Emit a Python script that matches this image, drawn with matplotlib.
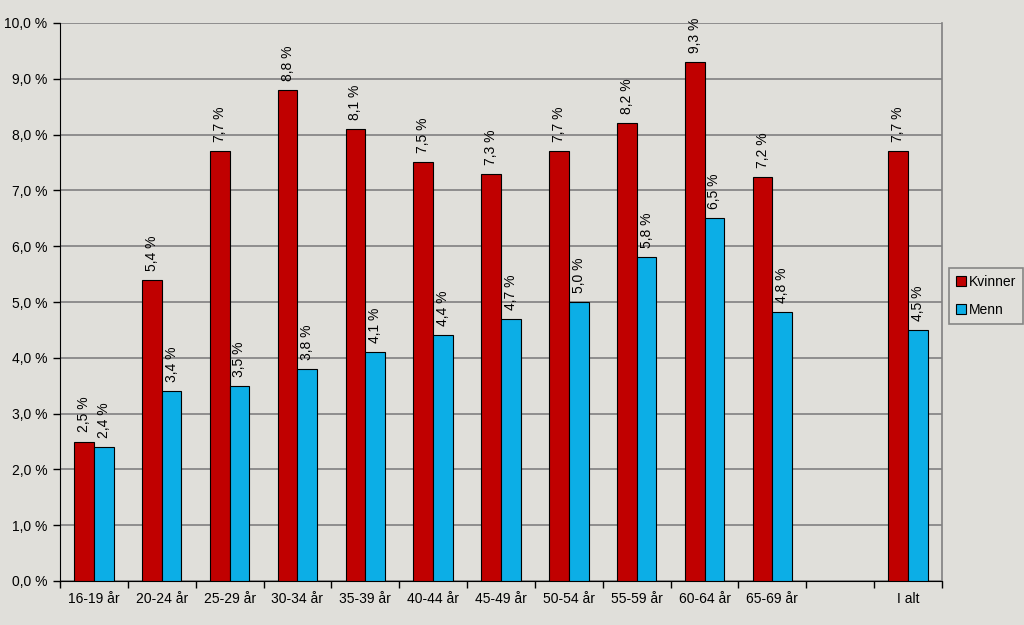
import matplotlib
matplotlib.use("Agg")
import matplotlib.pyplot as plt
import numpy as np
from matplotlib.patches import Patch
from matplotlib.ticker import FixedLocator

categories = ["16-19 år", "20-24 år", "25-29 år", "30-34 år", "35-39 år", "40-44 år",
              "45-49 år", "50-54 år", "55-59 år", "60-64 år", "65-69 år", "", "I alt"]
kvinner = [2.5, 5.4, 7.7, 8.8, 8.1, 7.5, 7.3, 7.7, 8.2, 9.3, 7.24, np.nan, 7.7]
menn = [2.4, 3.4, 3.5, 3.8, 4.1, 4.4, 4.7, 5.0, 5.8, 6.5, 4.82, np.nan, 4.5]
series_names = ["Kvinner", "Menn"]
yticks = [0, 1, 2, 3, 4, 5, 6, 7, 8, 9, 10]

bg = "#E0DFDA"
red = "#C00000"
blue = "#0CAEE6"

plt.rcParams["font.family"] = ["Liberation Sans", "DejaVu Sans"]
plt.rcParams["font.size"] = 10

fig = plt.figure(figsize=(10.24, 6.25), dpi=100, facecolor=bg)
ax = fig.add_axes([60/1024, 44/625, 882/1024, 558/625], facecolor=bg)

x = np.arange(len(categories))
w = 0.29
b1 = ax.bar(x - w/2, kvinner, w, color=red, edgecolor="black", linewidth=0.8, zorder=3)
b2 = ax.bar(x + w/2, menn, w, color=blue, edgecolor="black", linewidth=0.8, zorder=3)

def fmt(v):
    return f"{v:.1f}".replace(".", ",") + " %"

for bars, vals in ((b1, kvinner), (b2, menn)):
    for rect, v in zip(bars, vals):
        if np.isnan(v):
            continue
        ax.annotate(fmt(v), (rect.get_x() + rect.get_width()/2, v),
                    xytext=(0, 6.5), textcoords="offset points",
                    rotation=90, ha="center", va="bottom", fontsize=10, zorder=4)

ax.set_xlim(-0.5, len(categories) - 0.5)
ax.set_ylim(0, 10)
ax.set_yticks(yticks)
ax.set_yticklabels([fmt(t) for t in yticks])
ax.yaxis.grid(True, color="#808080", linewidth=1.2, zorder=0)
ax.set_xticks(x)
ax.set_xticklabels(categories)
ax.tick_params(axis="x", which="major", length=0, pad=8)
ax.xaxis.set_minor_locator(FixedLocator(np.arange(-0.5, len(categories), 1.0)))
ax.tick_params(axis="x", which="minor", length=5, width=1, color="black", direction="out")
ax.tick_params(axis="y", length=5, width=1, color="black", direction="out", pad=4)

ax.spines["left"].set_color("black")
ax.spines["bottom"].set_color("black")
ax.spines["top"].set_visible(False)
ax.spines["right"].set_color("#808080")
ax.spines["right"].set_linewidth(1.2)

handles = [Patch(facecolor=red, edgecolor="black", linewidth=0.8),
           Patch(facecolor=blue, edgecolor="black", linewidth=0.8)]
leg = fig.legend(handles, series_names, loc="upper left",
                 bbox_to_anchor=(949/1024, 1 - 268/625), frameon=True, fancybox=False,
                 handlelength=0.7, handleheight=0.7, handletextpad=0.2,
                 borderpad=0.5, labelspacing=1.0, fontsize=10, borderaxespad=0)
leg.get_frame().set_facecolor(bg)
leg.get_frame().set_edgecolor("#707070")
leg.get_frame().set_linewidth(1.2)

fig.savefig("out.png", dpi=100, facecolor=bg)
